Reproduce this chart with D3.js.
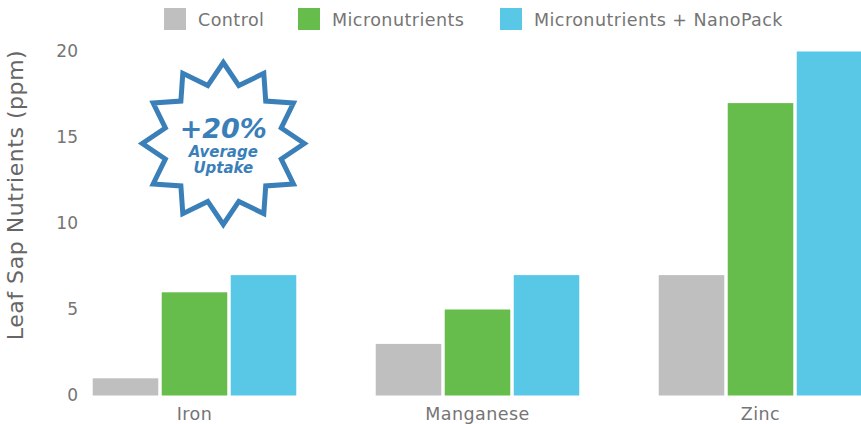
<!DOCTYPE html>
<html><head><meta charset="utf-8">
<script src="https://cdn.jsdelivr.net/npm/d3@7/dist/d3.min.js"></script>
<style>html,body{margin:0;padding:0;background:#fff}svg{display:block}text{font-family:"DejaVu Sans",sans-serif}</style>
</head><body><svg id="c" width="861" height="424"></svg>
<script>
const categories = ["Iron","Manganese","Zinc"];
const seriesNames = ["Control","Micronutrients","Micronutrients + NanoPack"];
const control = [1,3,7];
const micronutrients = [6,5,17];
const nanoPack = [7,7,20];
const yTicks = [0,5,10,15,20];
const colors = ["#bfbfbf","#66bd4c","#58c8e6"];
const series = [control,micronutrients,nanoPack];

const svg = d3.select("#c");
const x = d3.scaleBand().domain(categories).range([53,902]);
const xInner = d3.scaleBand().domain(d3.range(3)).range([x.bandwidth()/2-103.5,x.bandwidth()/2+103.5]).paddingInner(0.05).paddingOuter(0.025);
const y = d3.scaleLinear().domain([0,20]).range([395.5,51.5]);

series.forEach((vals,i)=>{
  svg.append("g").selectAll("rect").data(vals).join("rect")
    .attr("x",(d,j)=>x(categories[j])+xInner(i))
    .attr("width",xInner.bandwidth())
    .attr("y",d=>y(d)).attr("height",d=>y(0)-y(d))
    .attr("fill",colors[i]);
});

const yAxis = d3.axisLeft(y).tickValues(yTicks).tickSize(0).tickPadding(0);
const gy = svg.append("g").attr("transform","translate(78,0)").call(yAxis);
gy.select(".domain").remove();
gy.selectAll("text").attr("font-size",17).attr("fill","#757575").attr("font-family","DejaVu Sans");

const xAxis = d3.axisBottom(x).tickSize(0).tickPadding(0);
const gx = svg.append("g").attr("transform","translate(0,407.5)").call(xAxis);
gx.select(".domain").remove();
gx.selectAll("text").attr("font-size",17.5).attr("letter-spacing",0.45).attr("fill","#757575").attr("font-family","DejaVu Sans").attr("dy","0.7em");

svg.append("text").attr("transform","translate(23,195) rotate(-90)").attr("text-anchor","middle")
  .attr("font-size",22).attr("letter-spacing",0.55).attr("fill","#666").text("Leaf Sap Nutrients (ppm)");

const legendX = [164,298,500];
const lg = svg.append("g").selectAll("g").data(seriesNames).join("g").attr("transform",(d,i)=>`translate(${legendX[i]},8)`);
lg.append("rect").attr("width",22).attr("height",22).attr("fill",(d,i)=>colors[i]);
lg.append("text").attr("x",34).attr("y",17.5).attr("font-size",17.5).attr("letter-spacing",0.45).attr("fill","#757575").text(d=>d);

const cx=223.3, cy=143.5, R=81, r=60, n=12;
const pts = d3.range(n*2).map(i=>{
  const a=-Math.PI/2+i*Math.PI/n, q=i%2?r:R;
  return [cx+q*Math.cos(a),cy+q*Math.sin(a)];
});
svg.append("path").attr("d",d3.line()(pts)+"Z").attr("fill","#fff").attr("stroke","#3b7fb9").attr("stroke-width",5).attr("stroke-linejoin","miter").attr("stroke-miterlimit",8);
const badge=[["+20%",27,138],["Average",15,156.5],["Uptake",15,173]];
svg.append("g").selectAll("text").data(badge).join("text")
  .attr("x",cx).attr("y",d=>d[2]).attr("text-anchor","middle").attr("font-size",d=>d[1]).attr("font-weight",700)
  .attr("font-style","italic").attr("fill","#3b7fb9").text(d=>d[0]);
</script></body></html>
